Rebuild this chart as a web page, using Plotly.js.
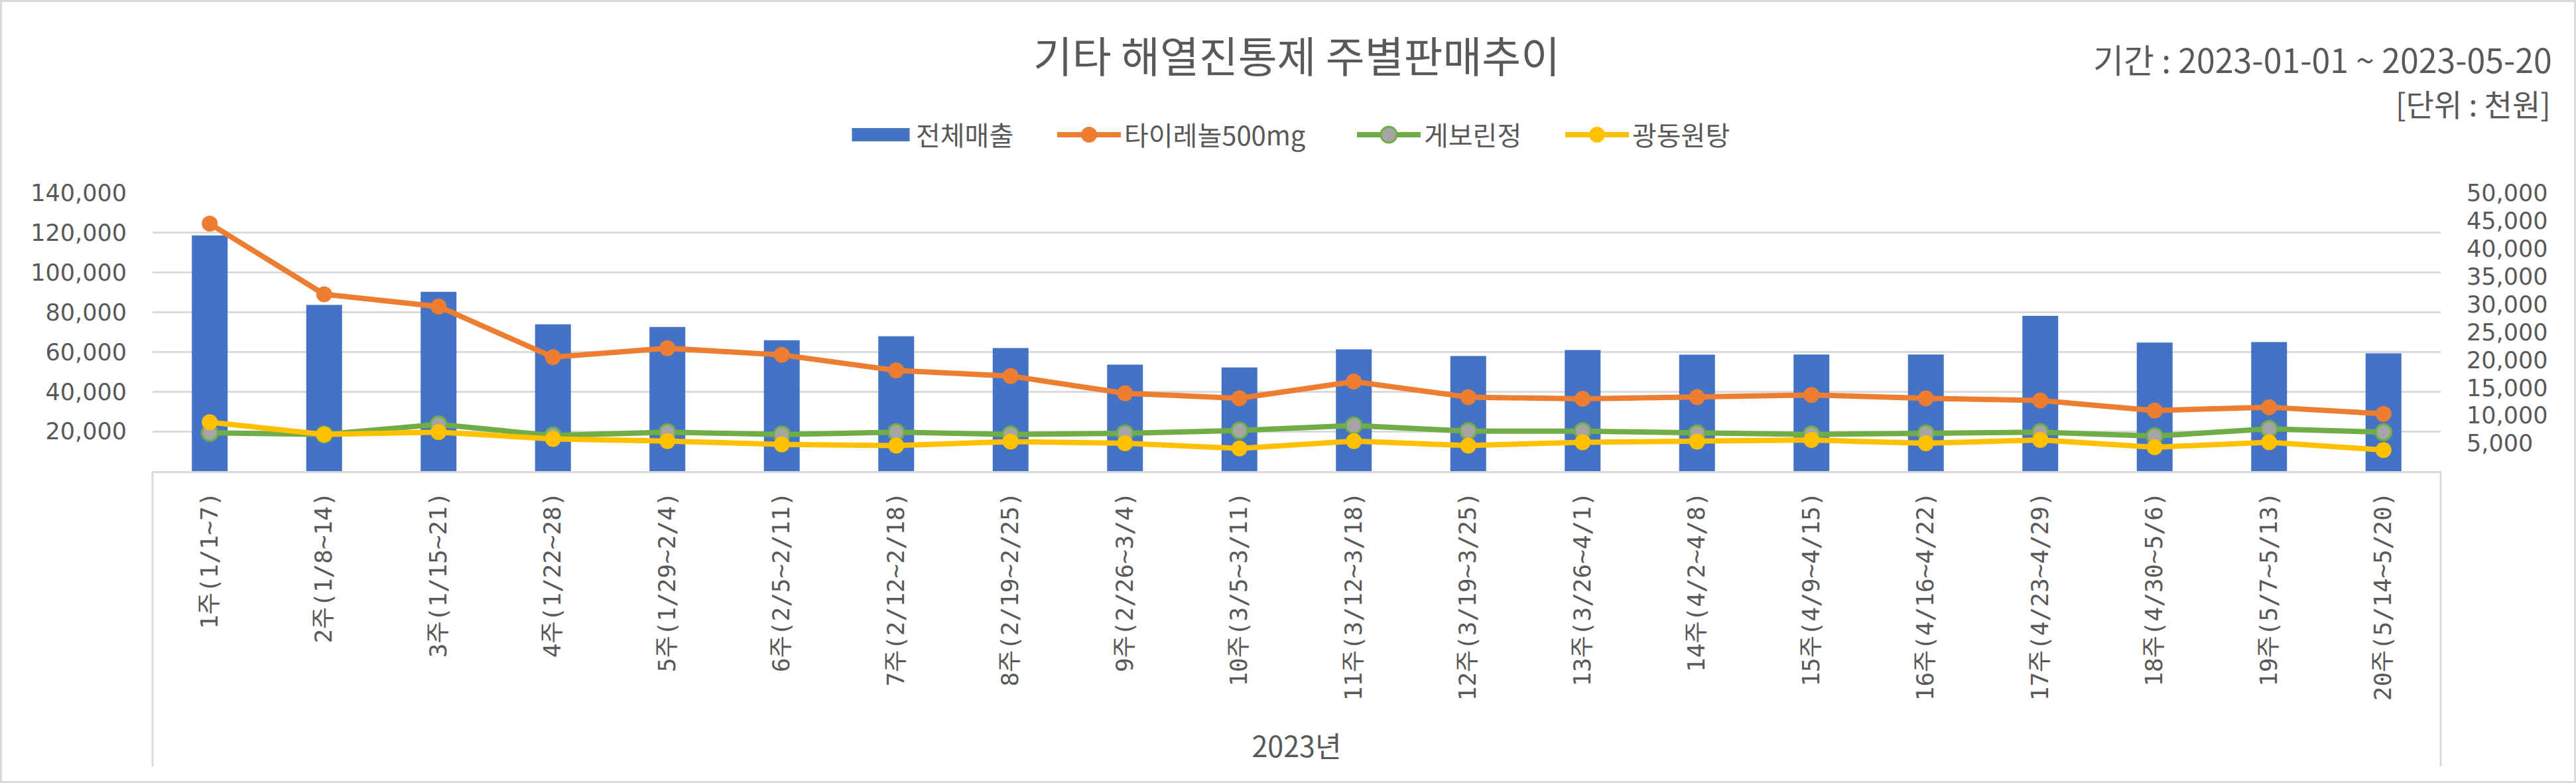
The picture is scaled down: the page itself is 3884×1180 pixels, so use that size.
<!DOCTYPE html>
<html>
<head>
<meta charset="utf-8">
<script src="https://cdn.plot.ly/plotly-3.0.1.min.js"></script>
<style>
html, body { margin: 0; padding: 0; background: #fff; }
#chart { width: 3884px; height: 1180px; }
</style>
</head>
<body>
<div id="chart"></div>
<script>
// ---- data ----
const weeks = ["1주(1/1~7)", "2주(1/8~14)", "3주(1/15~21)", "4주(1/22~28)", "5주(1/29~2/4)",
  "6주(2/5~2/11)", "7주(2/12~2/18)", "8주(2/19~2/25)", "9주(2/26~3/4)", "10주(3/5~3/11)",
  "11주(3/12~3/18)", "12주(3/19~3/25)", "13주(3/26~4/1)", "14주(4/2~4/8)", "15주(4/9~4/15)",
  "16주(4/16~4/22)", "17주(4/23~4/29)", "18주(4/30~5/6)", "19주(5/7~5/13)", "20주(5/14~5/20)"];
const totalSales = [118700, 83700, 90300, 73900, 72600, 65900, 67900, 62000, 53600, 52200,
  61300, 58000, 61000, 58600, 58700, 58700, 78200, 64700, 65000, 59300];
const tylenol500 = [44500, 31800, 29600, 20500, 22100, 20900, 18100, 17100, 14000, 13100,
  16100, 13300, 13000, 13300, 13700, 13100, 12700, 10900, 11500, 10300];
const geborin = [6900, 6600, 8400, 6400, 7000, 6600, 7000, 6600, 6800, 7300,
  8200, 7200, 7200, 6800, 6600, 6800, 7000, 6300, 7600, 7000];
const gwangdong = [8800, 6600, 7000, 5800, 5400, 4800, 4600, 5300, 5000, 4100,
  5400, 4600, 5200, 5300, 5600, 5000, 5600, 4300, 5200, 3800];
const seriesNames = ["전체매출", "타이레놀500mg", "게보린정", "광동원탕"];
const leftTicks = [20000, 40000, 60000, 80000, 100000, 120000, 140000];
const rightTicks = [5000, 10000, 15000, 20000, 25000, 30000, 35000, 40000, 45000, 50000];
const titleText = "기타 해열진통제 주별판매추이";
const periodText = "기간 : 2023-01-01 ~ 2023-05-20";
const unitText = "[단위 : 천원]";
const xTitleText = "2023년";

// ---- layout geometry ----
const W = 3884, H = 1180;
const M = { l: 230, r: 204, t: 291, b: 470 };
const PW = W - M.l - M.r, PH = H - M.t - M.b;
const px = x => (x - M.l) / PW;          // pixel -> paper x
const py = y => (H - M.b - y) / PH;      // pixel -> paper y

const FONT = '"Noto Sans CJK KR", "Noto Sans", sans-serif';
const NUMFONT = '"DejaVu Sans", "Noto Sans CJK KR", sans-serif';
const MONOFONT = '"DejaVu Sans Mono", "Noto Sans CJK KR", monospace';
const GREY = '#595959';
const fmt = v => v.toLocaleString('en-US');

const traces = [
  { type: 'bar', name: seriesNames[0], x: weeks, y: totalSales, yaxis: 'y',
    marker: { color: '#4472C4' } },
  { type: 'scatter', mode: 'lines+markers', name: seriesNames[1], x: weeks, y: tylenol500, yaxis: 'y2',
    line: { color: '#ED7D31', width: 8 }, marker: { color: '#ED7D31', size: 24 } },
  { type: 'scatter', mode: 'lines+markers', name: seriesNames[2], x: weeks, y: geborin, yaxis: 'y2',
    line: { color: '#70AD47', width: 8 }, marker: { color: '#A5A5A5', size: 24, line: { color: '#70AD47', width: 3 } } },
  { type: 'scatter', mode: 'lines+markers', name: seriesNames[3], x: weeks, y: gwangdong, yaxis: 'y2',
    line: { color: '#FFC000', width: 8 }, marker: { color: '#FFC000', size: 24 } }
];

const LEG_IW = 96;
const layout = {
  width: W, height: H,
  margin: M,
  paper_bgcolor: '#fff', plot_bgcolor: '#fff',
  font: { family: FONT, color: GREY, size: 40 },
  bargap: 0.687,
  title: { text: titleText, font: { family: FONT, size: 64, color: GREY },
    x: 0.5, xref: 'paper', xanchor: 'center', y: 1 - 87 / H, yref: 'container', yanchor: 'middle' },
  showlegend: true,
  legend: { orientation: 'h', x: px(1955), xanchor: 'center', y: py(203), yanchor: 'middle',
    font: { family: FONT, size: 40, color: GREY }, itemwidth: LEG_IW, traceorder: 'normal',
    bgcolor: 'rgba(0,0,0,0)' },
  xaxis: { type: 'category', range: [-0.5, weeks.length - 0.5], autorange: false,
    showgrid: false, showline: true, linecolor: '#d9d9d9', linewidth: 3,
    ticks: '', tickangle: -90, ticklabelstandoff: 14,
    tickfont: { family: MONOFONT, size: 36, color: GREY },
    title: { text: xTitleText, font: { family: FONT, size: 43, color: GREY }, standoff: 56 } },
  yaxis: { range: [0, 140000], tickmode: 'array', tickvals: leftTicks, ticktext: leftTicks.map(fmt),
    showgrid: true, gridcolor: '#d9d9d9', gridwidth: 3, zeroline: false, showline: false,
    ticks: '', ticklabelstandoff: 38, tickfont: { family: NUMFONT, size: 35, color: GREY } },
  yaxis2: { overlaying: 'y', side: 'right', range: [0, 50000], tickmode: 'array', tickvals: rightTicks,
    ticktext: rightTicks.map(fmt), showgrid: false, zeroline: false, showline: false,
    ticks: '', ticklabelstandoff: 38, tickfont: { family: NUMFONT, size: 35, color: GREY } },
  annotations: [
    { text: periodText, xref: 'paper', yref: 'paper', x: px(3850), y: py(88), xanchor: 'right', yanchor: 'middle',
      showarrow: false, font: { family: FONT, size: 50, color: GREY } },
    { text: unitText, xref: 'paper', yref: 'paper', x: px(3848), y: py(155), xanchor: 'right', yanchor: 'middle',
      showarrow: false, font: { family: FONT, size: 46, color: GREY } }
  ],
  shapes: [
    { type: 'line', xref: 'paper', yref: 'paper', x0: 0, x1: 0, y0: 0, y1: py(1155), line: { color: '#d9d9d9', width: 3 } },
    { type: 'line', xref: 'paper', yref: 'paper', x0: 1, x1: 1, y0: 0, y1: py(1155), line: { color: '#d9d9d9', width: 3 } },
    { type: 'rect', xref: 'paper', yref: 'paper', x0: px(1.5), x1: px(W - 1.5), y0: py(H - 1.5), y1: py(1.5),
      line: { color: '#d9d9d9', width: 3 } }
  ]
};

// Restyle the legend symbols to Excel-like proportions and place entries like the original.
const LEG_X = [1275, 1589, 2041, 2355];
function styleLegend(gd) {
  const items = gd.querySelectorAll('.legend .traces');
  const mid = 5 + LEG_IW / 2;
  items.forEach((g, i) => {
    const parentX = g.parentNode.getCTM().e;
    const tr = g.getAttribute('transform') || '';
    const m = tr.match(/translate\(\s*([-\d.]+)[ ,]+([-\d.]+)\s*\)/);
    const ty = m ? parseFloat(m[2]) : 0;
    const x = LEG_X[i] !== undefined ? LEG_X[i] : parentX;
    g.setAttribute('transform', `translate(${x - parentX},${ty})`);
    g.querySelectorAll('.legendlines path').forEach(p => p.setAttribute('d', `M5,0h${LEG_IW}`));
    g.querySelectorAll('.legendpoints path').forEach(p => {
      if (i === 0) {
        p.setAttribute('d', 'M-43.5,10H43.5V-10H-43.5Z');
      } else {
        p.setAttribute('d', 'M12,0A12,12 0 1,1 0,-12A12,12 0 0,1 12,0Z');
      }
      p.setAttribute('transform', `translate(${mid},0)`);
    });
  });
  gd.querySelectorAll('.legend .scrollbox, .legend').forEach(el => el.removeAttribute('clip-path'));
}

Plotly.newPlot('chart', traces, layout, { staticPlot: true, displayModeBar: false }).then(styleLegend);
</script>
</body>
</html>
